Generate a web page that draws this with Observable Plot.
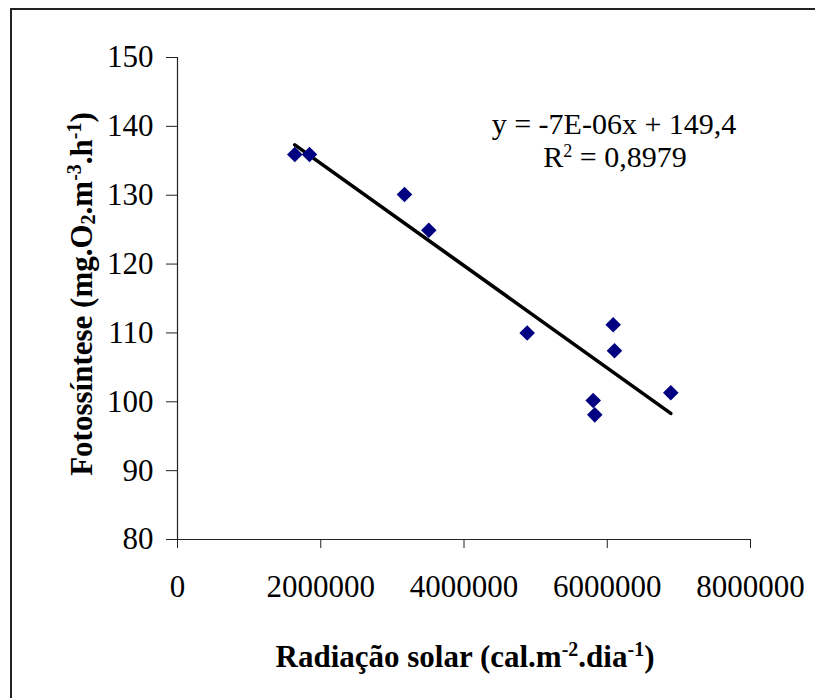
<!DOCTYPE html>
<html>
<head>
<meta charset="utf-8">
<script src="https://cdn.jsdelivr.net/npm/d3@7"></script>
<script src="https://cdn.jsdelivr.net/npm/@observablehq/plot@0.6"></script>
<style>
  html, body { margin: 0; padding: 0; background: white; }
  #chart svg { display: block; }
</style>
</head>
<body>
<div id="chart"></div>
<script>
// Data
const radiacao = [1637700, 1843000, 3169000, 3508600, 4882000, 6083000, 6101000, 5804000, 5826000, 6887000];
const fotossintese = [135.9, 135.9, 130.1, 124.9, 110.0, 111.2, 107.4, 100.2, 98.1, 101.3];
const xTicks = [0, 2000000, 4000000, 6000000, 8000000];
const yTicks = [80, 90, 100, 110, 120, 130, 140, 150];
const equationText = "y = -7E-06x + 149,4";
const r2Value = " = 0,8979";

const data = radiacao.map((x, i) => ({x, y: fotossintese[i]}));

const W = 815, H = 698;
const mL = 177, mR = 65, mT = 57, mB = 159;

const plot = Plot.plot({
  width: W,
  height: H,
  marginLeft: mL,
  marginRight: mR,
  marginTop: mT,
  marginBottom: mB,
  style: {fontFamily: "'Liberation Serif', 'Times New Roman', serif", fontSize: "31px", background: "white", color: "black", overflow: "visible"},
  x: {domain: [0, 8000000], ticks: xTicks, tickFormat: d => String(d), label: null},
  y: {domain: [80, 150], ticks: yTicks, label: null},
  marks: [
    Plot.axisX({ticks: xTicks, tickFormat: d => String(d), tickSize: 9, tickPadding: 26, label: null, stroke: "#222", fontSize: 31}),
    Plot.axisY({ticks: yTicks, tickSize: 11, tickPadding: 13, label: null, stroke: "#222", fontSize: 31}),
    Plot.ruleX([0], {stroke: "#222", strokeWidth: 1.2}),
    Plot.ruleY([80], {stroke: "#222", strokeWidth: 1.2}),
    Plot.linearRegressionY(data, {x: "x", y: "y", ci: 0, stroke: "black", strokeWidth: 3.6}),
    Plot.dot(data, {x: "x", y: "y", symbol: "diamond2", r: 7, fill: "#000080", stroke: "none"})
  ]
});

const svg = d3.select(plot);
const serif = "'Liberation Serif', 'Times New Roman', serif";

// Outer frame (only top and left visible, as in the reference)
svg.append("path")
  .attr("d", `M11,${H + 5} L11,9 L${W + 5},9`)
  .attr("fill", "none")
  .attr("stroke", "#222")
  .attr("stroke-width", 2);

// X axis title
const xt = svg.append("text")
  .attr("x", 465).attr("y", 667)
  .attr("text-anchor", "middle")
  .attr("font-family", serif).attr("font-weight", "bold").attr("font-size", 31)
  .attr("fill", "black");
xt.append("tspan").text("Radiação solar (cal.m");
xt.append("tspan").attr("font-size", 20).attr("dy", -11).text("-2");
xt.append("tspan").attr("dy", 11).text(".dia");
xt.append("tspan").attr("font-size", 20).attr("dy", -11).text("-1");
xt.append("tspan").attr("dy", 11).text(")");

// Y axis title
const yt = svg.append("text")
  .attr("transform", "translate(92,294) rotate(-90)")
  .attr("text-anchor", "middle")
  .attr("font-family", serif).attr("font-weight", "bold").attr("font-size", 31)
  .attr("fill", "black");
yt.append("tspan").text("Fotossíntese (mg.O");
yt.append("tspan").attr("font-size", 20).attr("dy", 3).text("2");
yt.append("tspan").attr("dy", -3).text(".m");
yt.append("tspan").attr("font-size", 20).attr("dy", -11).text("-3");
yt.append("tspan").attr("dy", 11).text(".h");
yt.append("tspan").attr("font-size", 20).attr("dy", -11).text("-1");
yt.append("tspan").attr("dy", 11).text(")");

// Regression equation annotation
svg.append("text")
  .attr("x", 614).attr("y", 134)
  .attr("text-anchor", "middle")
  .attr("font-family", serif).attr("font-size", 30)
  .attr("fill", "black")
  .text(equationText);
const r2 = svg.append("text")
  .attr("x", 615).attr("y", 167)
  .attr("text-anchor", "middle")
  .attr("font-family", serif).attr("font-size", 30)
  .attr("fill", "black");
r2.append("tspan").text("R");
r2.append("tspan").attr("font-size", 18).attr("dy", -10).text("2");
r2.append("tspan").attr("dy", 10).text(r2Value);

document.getElementById("chart").appendChild(plot);
</script>
</body>
</html>
